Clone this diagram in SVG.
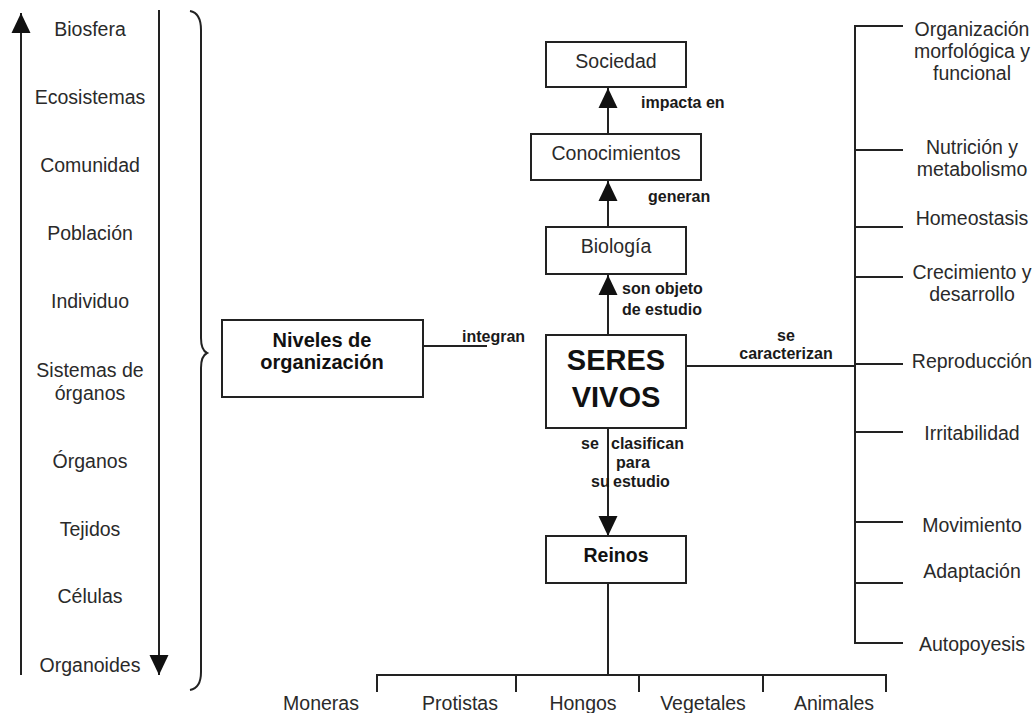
<svg xmlns="http://www.w3.org/2000/svg" width="1035" height="713" viewBox="0 0 1035 713">
<defs>
<style>
.t{font-family:"Liberation Sans",Arial,sans-serif;font-size:19.5px;fill:#2a2a2a;text-anchor:middle}
.b{font-family:"Liberation Sans",Arial,sans-serif;font-size:16px;font-weight:bold;fill:#1a1a1a}
.nb{font-family:"Liberation Sans",Arial,sans-serif;font-weight:bold;fill:#111;text-anchor:middle}
.box{fill:#fff;stroke:#222;stroke-width:2}
.ln{fill:none;stroke:#222;stroke-width:2}
</style>
<marker id="ah" markerUnits="userSpaceOnUse" markerWidth="20" markerHeight="20" refX="20" refY="9.5" orient="auto" viewBox="0 0 20 19">
<path d="M0,0 L20,9.5 L0,19 z" fill="#111"/>
</marker>
</defs>
<rect width="1035" height="713" fill="#fff"/>

<g id="connectors">
<line class="ln" x1="21" y1="675" x2="21" y2="13" marker-end="url(#ah)"/>
<line class="ln" x1="159" y1="10" x2="159" y2="675" marker-end="url(#ah)"/>
<path class="ln" d="M190,11 Q201,13 201,30 L201,338 Q201,350 207,353 Q201,356 201,368 L201,672 Q201,688 190,690" stroke-width="1.8"/>
<line class="ln" x1="423" y1="346" x2="487" y2="346"/>
<line class="ln" x1="608" y1="134" x2="608" y2="88" marker-end="url(#ah)"/>
<line class="ln" x1="608" y1="227" x2="608" y2="181" marker-end="url(#ah)"/>
<line class="ln" x1="608" y1="335" x2="608" y2="275" marker-end="url(#ah)"/>
<line class="ln" x1="608" y1="428" x2="608" y2="536" marker-end="url(#ah)"/>
<line class="ln" x1="686" y1="366" x2="855" y2="366"/>
<path class="ln" d="M903,26 H855 V643 H903 M855,150 H903 M855,227 H903 M855,277 H903 M855,364 H903 M855,432 H903 M855,522 H903 M855,583 H903"/>
<path class="ln" d="M608,583 V675 M377,692 V675 H886 V692 M516,675 V692 M639,675 V692 M763,675 V692"/>
<text class="b" x="641" y="108">impacta en</text>
<text class="b" x="648" y="202">generan</text>
<text class="b" x="622" y="294">son objeto</text>
<text class="b" x="622" y="315">de estudio</text>
<text class="b" x="462" y="342">integran</text>
<text class="b" x="786" y="341" text-anchor="middle">se</text>
<text class="b" x="786" y="359" text-anchor="middle">caracterizan</text>
<text class="b" x="581" y="449">se</text>
<text class="b" x="611" y="449">clasifican</text>
<text class="b" x="633" y="468" text-anchor="middle">para</text>
<text class="b" x="591" y="487">su</text>
<text class="b" x="613" y="487">estudio</text>
</g>

<g id="niveles-lista">
<text class="t" x="90" y="36">Biosfera</text>
<text class="t" x="90" y="104">Ecosistemas</text>
<text class="t" x="90" y="172">Comunidad</text>
<text class="t" x="90" y="240">Población</text>
<text class="t" x="90" y="308">Individuo</text>
<text class="t" x="90" y="377">Sistemas de</text>
<text class="t" x="90" y="400">órganos</text>
<text class="t" x="90" y="468">Órganos</text>
<text class="t" x="90" y="536">Tejidos</text>
<text class="t" x="90" y="603">Células</text>
<text class="t" x="90" y="672">Organoides</text>
</g>

<g id="niveles">
<rect class="box" x="222" y="320" width="201" height="77"/>
<text class="nb" x="322" y="347" font-size="20">Niveles de</text>
<text class="nb" x="322" y="369" font-size="20">organización</text>
</g>

<g id="sociedad">
<rect class="box" x="546" y="42" width="140" height="45"/>
<text class="t" x="616" y="68">Sociedad</text>
</g>
<g id="conocimientos">
<rect class="box" x="531" y="134" width="170" height="46"/>
<text class="t" x="616" y="160">Conocimientos</text>
</g>
<g id="biologia">
<rect class="box" x="546" y="227" width="140" height="47"/>
<text class="t" x="616" y="253">Biología</text>
</g>
<g id="seres-vivos">
<rect class="box" x="546" y="335" width="140" height="93"/>
<text class="nb" x="616" y="370" font-size="29">SERES</text>
<text class="nb" x="616" y="407" font-size="29">VIVOS</text>
</g>
<g id="reinos">
<rect class="box" x="546" y="536" width="140" height="47"/>
<text class="nb" x="616" y="562" font-size="19.5">Reinos</text>
</g>

<g id="caracteristicas">
<text class="t" x="972" y="36">Organización</text>
<text class="t" x="972" y="58">morfológica y</text>
<text class="t" x="972" y="80">funcional</text>
<text class="t" x="972" y="154">Nutrición y</text>
<text class="t" x="972" y="176">metabolismo</text>
<text class="t" x="972" y="225">Homeostasis</text>
<text class="t" x="972" y="279">Crecimiento y</text>
<text class="t" x="972" y="301">desarrollo</text>
<text class="t" x="972" y="368">Reproducción</text>
<text class="t" x="972" y="440">Irritabilidad</text>
<text class="t" x="972" y="532">Movimiento</text>
<text class="t" x="972" y="578">Adaptación</text>
<text class="t" x="972" y="651">Autopoyesis</text>
</g>

<g id="reinos-lista">
<text class="t" x="321" y="710">Moneras</text>
<text class="t" x="460" y="710">Protistas</text>
<text class="t" x="583" y="710">Hongos</text>
<text class="t" x="703" y="710">Vegetales</text>
<text class="t" x="834" y="710">Animales</text>
</g>
</svg>
